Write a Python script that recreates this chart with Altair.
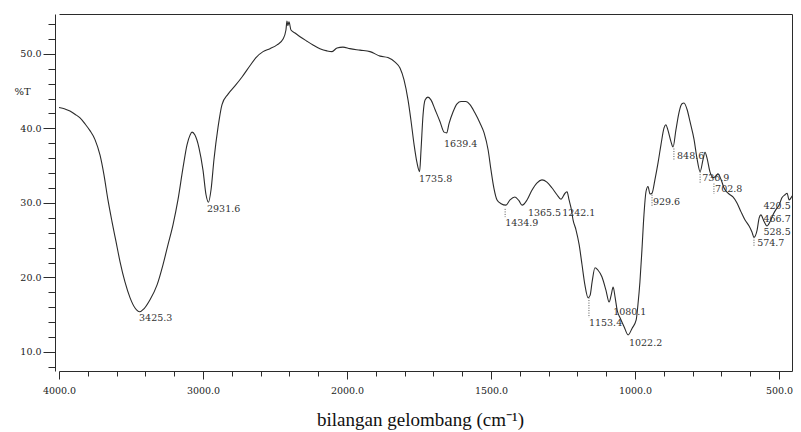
import altair as alt
import pandas as pd

# spectrum trace
wavenumber = [4000,3958,3924,3889,3854,3819,3785,3750,3715,3688,3660,3632,3604,3576,3542,3507,3472,3440,3410,3368,
              3319,3278,3243,3208,3174,3139,3111,3090,3076,3056,3028,3000,2979,2962,2944,2924,2896,2868,2826,2778,
              2729,2674,2632,2583,2535,2486,2444,2424,2417,2410,2403,2389,2361,2326,2278,2236,2188,2139,2104,2069,
              2028,1990,1955,1920,1885,1858,1833,1816,1802,1788,1778,1767,1757,1748,1743,1736,1729,1719,1708,1694,
              1677,1663,1654,1646,1632,1618,1604,1587,1573,1556,1538,1524,1510,1500,1490,1479,1465,1448,1434,1417,
              1403,1392,1375,1358,1340,1323,1306,1288,1271,1257,1243,1236,1229,1222,1215,1205,1194,1184,1174,1163,
              1156,1149,1139,1129,1115,1101,1090,1083,1076,1069,1062,1052,1038,1024,1010,996,990,983,976,969,
              962,955,948,941,931,920,910,899,893,886,875,868,858,847,837,830,819,809,795,785,
              774,764,757,750,740,729,719,712,701,691,677,660,646,632,618,604,594,587,576,569,
              563,552,542,531,521,511,500,490,479,472,465,455,445,434,430]
transmittance = [42.8,42.6,42.35,41.9,41.4,40.6,39.7,38.5,36.4,33.8,30.4,27.5,24.8,22.1,19.4,17.3,15.9,15.4,15.8,17.0,
                 19.0,21.7,24.4,27.1,30.4,34.7,37.8,39.1,39.5,39.1,37.4,34.4,31.1,30.1,31.8,35.8,40.1,43.2,44.6,45.7,
                 46.9,48.4,49.5,50.3,50.7,51.2,52.0,53.2,54.4,53.8,54.3,53.2,52.8,52.3,51.7,51.2,50.7,50.4,50.3,50.8,
                 50.9,50.7,50.5,50.3,49.7,49.5,48.9,48.1,46.5,43.8,41.1,37.8,35.4,34.2,37.1,41.8,43.8,44.2,43.8,42.5,
                 40.9,39.5,39.4,40.6,42.2,43.3,43.6,43.6,43.2,42.1,40.7,39.4,37.1,34.4,32.0,30.4,29.9,29.7,30.4,30.8,
                 30.3,29.7,30.4,31.7,32.7,33.1,32.8,32.0,31.1,30.5,31.3,31.5,30.4,29.3,27.7,26.4,24.4,21.7,19.0,17.3,
                 17.6,19.4,21.3,21.0,20.1,18.3,16.7,17.6,18.7,17.3,15.6,14.6,13.4,12.3,13.2,14.3,16.3,19.4,23.7,28.4,
                 31.5,32.2,31.2,31.3,33.1,35.4,37.8,40.1,40.5,39.8,38.2,37.5,39.8,42.2,43.3,43.4,42.5,40.9,38.5,36.0,
                 34.2,35.8,36.8,36.0,34.2,33.4,33.6,33.9,33.1,32.0,31.3,30.8,30.0,28.8,27.7,26.9,26.1,25.4,26.4,28.0,
                 28.4,27.5,26.9,27.5,28.4,29.1,29.7,30.7,31.1,31.3,30.4,30.9,31.5,31.1,31.4]
assert len(wavenumber) == len(transmittance)

# peak annotations: text, anchor wavenumber, anchor %T
peak_text = ["3425.3", "2931.6", "1735.8", "1639.4", "1434.9", "1365.5", "1242.1", "929.6", "848.6",
             "736.9", "702.8", "1153.4", "1080.1", "1022.2", "574.7", "528.5", "466.7", "420.5"]
peak_wn = [3444, 2972, 1750, 1663, 1451, 1372, 1253, 938, 854, 767, 722, 1160, 1076, 1021, 576, 554, 554, 554]
peak_t = [14.6, 29.2, 33.2, 37.9, 27.3, 28.7, 28.7, 30.1, 36.3, 33.4, 31.9, 13.9, 15.4, 11.2, 24.6, 26.1, 27.9, 29.6]

# short dotted marker lines under some minima
mark_wn = [1451, 1160, 941, 865, 774, 726, 587]
mark_top = [29.2, 17.3, 31.1, 37.3, 34.2, 32.6, 25.4]
mark_bottom = [28.1, 14.6, 29.6, 35.8, 32.6, 31.2, 24.1]

x_major = [4000, 3000, 2000, 1500, 1000, 500]
x_minor = [3800, 3600, 3400, 3200, 2800, 2600, 2400, 2200, 1900, 1800, 1700, 1600, 1400, 1300, 1200, 1100,
           900, 800, 700, 600]
y_major = [10, 20, 30, 40, 50]
y_minor = [8, 12, 14, 16, 18, 22, 24, 26, 28, 32, 34, 36, 38, 42, 44, 46, 48, 52, 54]

spec = pd.DataFrame({"wn": wavenumber, "T": transmittance})
peaks = pd.DataFrame({"label": peak_text, "wn": peak_wn, "T": peak_t})
marks = pd.DataFrame({"wn": mark_wn, "top": mark_top, "bottom": mark_bottom})

xscale = alt.Scale(domain=[4000, 2000, 455], range=[0, 288, 733], nice=False, zero=False)
yscale = alt.Scale(domain=[7.45, 55.35], nice=False, zero=False)

INK = "#2b2b2b"
NUMFONT = "DejaVu Serif"

line = alt.Chart(spec).mark_line(color=INK, strokeWidth=1.1, interpolate="monotone", clip=True).encode(
    x=alt.X("wn:Q", scale=xscale, axis=alt.Axis(
        orient="bottom", values=x_major, format=".1f", labelFont=NUMFONT, labelFontSize=9.5,
        labelColor="#222", labelFlush=False, tickSize=8, tickColor=INK, domainColor=INK, labelPadding=6,
        grid=False, title="bilangan gelombang (cm⁻¹)", titleFont="Liberation Serif", titleFontSize=19,
        titleFontWeight="normal", titleColor="#111", titleX=361, titleY=54, titleBaseline="alphabetic",
        titleAnchor="start", titleAlign="center")),
    y=alt.Y("T:Q", scale=yscale, axis=alt.Axis(
        orient="left", values=y_major, format=".1f", labelFont=NUMFONT, labelFontSize=9.5,
        labelColor="#222", labelFlush=False, tickSize=12, tickColor=INK, domainColor=INK, labelPadding=2,
        offset=4, grid=False, title="%T", titleAngle=0, titleFont=NUMFONT, titleFontSize=10,
        titleFontWeight="normal", titleColor="#222", titleX=-33, titleY=77, titleAlign="center",
        titleBaseline="middle")),
)

labels = alt.Chart(peaks).mark_text(
    font=NUMFONT, fontSize=9.5, color="#333", align="left", baseline="middle"
).encode(
    x=alt.X("wn:Q", scale=xscale, axis=alt.Axis(
        orient="bottom", values=x_minor, labels=False, domain=False, tickSize=5, tickColor=INK,
        grid=False, title=None)),
    y=alt.Y("T:Q", scale=yscale, axis=alt.Axis(
        orient="left", values=y_minor, labels=False, domain=False, tickSize=7, tickColor=INK,
        offset=4, grid=False, title=None)),
    text="label:N",
)

frame = alt.Chart(peaks).mark_point(opacity=0).encode(
    x=alt.X("wn:Q", scale=xscale, axis=alt.Axis(
        orient="top", labels=False, ticks=False, domain=True, domainColor=INK, grid=False, title=None)),
    y=alt.Y("T:Q", scale=yscale, axis=alt.Axis(
        orient="right", labels=False, ticks=False, domain=True, domainColor=INK, grid=False, title=None)),
)

markers = alt.Chart(marks).mark_rule(color="#555", strokeWidth=1, strokeDash=[1, 1.5]).encode(
    x=alt.X("wn:Q", scale=xscale, axis=None),
    y=alt.Y("top:Q", scale=yscale, axis=None),
    y2="bottom:Q",
)

chart = alt.layer(line, labels, frame, markers).resolve_axis(x="independent", y="independent").properties(
    width=733, height=357,
    autosize=alt.AutoSizeParams(type="none"),
    padding={"left": 51, "top": 6, "right": 1, "bottom": 61},
    background="white",
).configure_view(stroke=None)

chart.save("out.html", embed_options={"renderer": "svg", "actions": False})
